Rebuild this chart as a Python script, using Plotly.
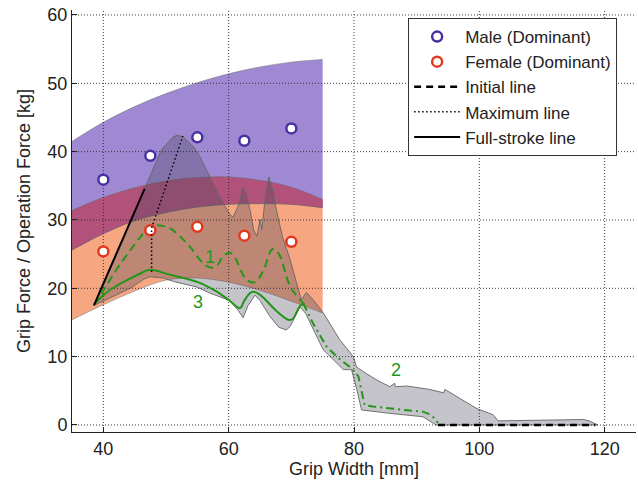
import plotly.graph_objects as go

# ---------------- data ----------------
band_x = [35, 40, 45, 50, 55, 60, 65, 70, 75]
male_upper = [41.5, 44.3, 46.6, 48.5, 50.1, 51.4, 52.4, 53.1, 53.5]
male_lower = [25.6, 28.0, 29.9, 31.1, 31.9, 32.3, 32.4, 32.3, 31.8]
female_upper = [31.4, 33.3, 34.7, 35.7, 36.2, 36.3, 35.8, 34.8, 33.0]
female_lower = [15.4, 17.6, 19.6, 21.2, 21.5, 20.9, 19.7, 18.1, 16.4]

op_upper_x = [38.5, 46.7, 47.2, 49.3, 51.2, 51.9, 52.8, 54.3, 55.4, 57.0, 58.5, 60.2, 60.7,
              61.5, 62.3, 62.8, 63.4, 64.0, 64.5, 65.0, 65.3, 65.8, 66.4, 67.0, 67.6, 68.6,
              69.8, 70.7, 71.6, 72.4, 73.5, 75.1, 77.7, 79.9, 80.4, 82.0, 83.6, 85.7, 86.5,
              86.6, 88.4, 92.1, 94.3, 94.5, 96.4, 98.0, 99.6, 102.2, 103.0, 110.0, 116.6,
              117.5, 118.9]
op_upper_y = [17.5, 34.8, 35.8, 40.3, 42.2, 42.4, 42.1, 40.8, 39.3, 36.4, 33.5, 30.8, 30.4,
              32.0, 34.7, 33.8, 31.5, 28.5, 27.6, 30.1, 28.6, 33.0, 36.3, 34.5, 31.5, 27.5,
              24.2, 21.2, 18.3, 19.4, 18.3, 16.4, 12.5, 10.0, 8.5, 7.5, 6.6, 5.6, 6.1,
              5.6, 5.7, 5.2, 4.7, 5.2, 4.2, 3.3, 2.4, 1.5, 0.6, 0.7, 0.8,
              0.6, 0.0]
op_lower_x = [118.9, 93.1, 91.0, 85.7, 81.2, 80.5, 79.6, 78.3, 77.0, 75.1, 73.5, 72.3, 71.4,
              70.6, 69.8, 69.2, 68.0, 66.5, 65.0, 64.2, 63.1, 62.3, 61.5, 60.2, 57.0, 54.9,
              51.2, 49.6, 47.4, 46.4, 44.3, 41.1, 38.5]
op_lower_y = [0.0, 0.0, 1.2, 1.7, 2.2, 5.0, 8.1, 8.1, 9.3, 11.0, 14.0, 16.3, 17.3,
              15.8, 14.4, 13.9, 14.3, 16.0, 18.2, 19.0, 17.5, 15.7, 16.8, 18.2, 19.3, 20.2,
              21.0, 21.5, 21.7, 21.3, 20.0, 18.6, 17.5]

line1_x = [38.5, 40.0, 42.0, 44.0, 46.0, 47.4, 49.0, 50.6, 52.0, 53.8, 55.9, 57.3, 58.3,
           59.1, 60.2, 61.0, 62.8, 64.2, 65.5, 66.9, 67.5, 68.2, 69.8, 71.4, 72.0]
line1_y = [17.6, 19.7, 22.6, 25.2, 27.6, 29.1, 29.2, 28.8, 27.8, 26.1, 23.7, 23.0, 23.5,
           24.7, 25.2, 24.5, 21.3, 20.9, 22.5, 25.7, 25.6, 24.7, 20.3, 18.3, 17.7]

line3_x = [38.5, 40.0, 42.0, 44.0, 46.0, 47.4, 50.6, 55.4, 58.1, 60.0, 61.8, 62.5, 63.4,
           63.9, 64.8, 65.8, 67.5, 69.5, 70.2, 71.0, 71.6, 72.0]
line3_y = [17.6, 19.0, 20.3, 21.3, 22.2, 22.7, 22.0, 20.8, 19.5, 18.3, 17.1, 18.2, 19.3,
           19.5, 19.2, 18.4, 16.8, 15.4, 15.5, 16.8, 17.6, 17.6]

line2_x = [71.9, 73.5, 75.6, 77.5, 79.6, 80.7, 81.2, 81.7, 83.0, 85.7, 88.0, 91.0, 92.0,
           92.6, 93.4]
line2_y = [17.8, 14.8, 11.5, 9.8, 8.3, 7.1, 5.0, 2.9, 2.7, 2.4, 2.2, 1.95, 1.6, 1.2, 0.3]

initial_x = [93.4, 118.5]
initial_y = [0.0, 0.0]
maximum_x = [47.7, 47.7, 52.7]
maximum_y = [22.4, 28.8, 42.3]
fullstroke_x = [38.5, 46.6]
fullstroke_y = [17.5, 34.6]

subject_x = [40, 47.5, 55, 62.5, 70]
male_force = [35.9, 39.4, 42.1, 41.6, 43.4]
female_force = [25.4, 28.5, 29.0, 27.7, 26.8]

label_text = ["1", "2", "3"]
label_x = [57.0, 86.7, 55.1]
label_y = [24.6, 8.0, 18.0]

x_ticks = [40, 60, 80, 100, 120]
y_ticks = [0, 10, 20, 30, 40, 50, 60]
x_range = [35, 125]
y_range = [-1.03, 60.73]

# ---------------- styles ----------------
C_PURPLE = "rgb(158,137,210)"
C_SALMON = "rgb(247,166,130)"
C_MAGENTA = "rgb(178,82,122)"
C_EDGE = "rgba(100,100,100,0.6)"
C_GREEN = "rgb(35,150,25)"
FONT = "Liberation Sans, Arial, sans-serif"

fig = go.Figure()


def band(lower, upper, color):
    fig.add_trace(go.Scatter(x=band_x, y=lower, mode="lines",
                             line=dict(color=C_EDGE, width=0.8, shape="spline"),
                             showlegend=False, hoverinfo="skip"))
    fig.add_trace(go.Scatter(x=band_x, y=upper, mode="lines", fill="tonexty",
                             fillcolor=color,
                             line=dict(color=C_EDGE, width=0.8, shape="spline"),
                             showlegend=False, hoverinfo="skip"))


band(female_lower, female_upper, C_SALMON)
band(male_lower, male_upper, C_PURPLE)
band(male_lower, female_upper, C_MAGENTA)

# operation-force envelope
fig.add_trace(go.Scatter(x=op_upper_x + op_lower_x, y=op_upper_y + op_lower_y,
                         mode="lines", fill="toself", fillcolor="rgba(70,70,90,0.32)",
                         line=dict(color="rgba(100,100,100,0.9)", width=1),
                         showlegend=False, hoverinfo="skip"))

# grid lines (drawn over the bands, as in the reference)
gx, gy = [], []
for t in x_ticks:
    gx += [t, t, None]
    gy += [y_range[0], y_range[1], None]
for t in y_ticks:
    gx += [x_range[0], x_range[1], None]
    gy += [t, t, None]
fig.add_trace(go.Scatter(x=gx, y=gy, mode="lines",
                         line=dict(color="rgba(40,40,40,0.9)", width=1, dash="1px,2px"),
                         showlegend=False, hoverinfo="skip"))

# green lines
fig.add_trace(go.Scatter(x=line1_x, y=line1_y, mode="lines",
                         line=dict(color=C_GREEN, width=2, dash="8px,5px", shape="spline"),
                         showlegend=False, hoverinfo="skip"))
fig.add_trace(go.Scatter(x=line3_x, y=line3_y, mode="lines",
                         line=dict(color=C_GREEN, width=2, shape="spline"),
                         showlegend=False, hoverinfo="skip"))
fig.add_trace(go.Scatter(x=line2_x, y=line2_y, mode="lines",
                         line=dict(color=C_GREEN, width=2, dash="8px,4px,2px,4px"),
                         showlegend=False, hoverinfo="skip"))

# markers
fig.add_trace(go.Scatter(x=subject_x, y=male_force, mode="markers", name="Male (Dominant)",
                         marker=dict(symbol="circle", size=10, color="white",
                                     line=dict(color="rgb(72,48,160)", width=2.5))))
fig.add_trace(go.Scatter(x=subject_x, y=female_force, mode="markers", name="Female (Dominant)",
                         marker=dict(symbol="circle", size=10, color="white",
                                     line=dict(color="rgb(228,55,30)", width=2.5))))

# black reference lines
fig.add_trace(go.Scatter(x=initial_x, y=initial_y, mode="lines", name="Initial line",
                         line=dict(color="black", width=2.5, dash="7px,5px")))
fig.add_trace(go.Scatter(x=maximum_x, y=maximum_y, mode="lines", name="Maximum line",
                         line=dict(color="black", width=1.5, dash="1.5px,2.5px")))
fig.add_trace(go.Scatter(x=fullstroke_x, y=fullstroke_y, mode="lines", name="Full-stroke line",
                         line=dict(color="black", width=2)))

for t, xx, yy in zip(label_text, label_x, label_y):
    fig.add_annotation(x=xx, y=yy, text=t, showarrow=False,
                       font=dict(family=FONT, size=18, color=C_GREEN))

axis_common = dict(showgrid=False, zeroline=False, showline=True, linecolor="#222",
                   linewidth=1, ticks="inside", ticklen=5, tickcolor="#222",
                   tickfont=dict(family=FONT, size=18, color="#222"))

fig.update_layout(
    width=638, height=488,
    margin=dict(l=72, r=2, t=10, b=56),
    paper_bgcolor="white", plot_bgcolor="white",
    font=dict(family=FONT, color="#222"),
    xaxis=dict(range=x_range, tickvals=x_ticks,
               title=dict(text="Grip Width [mm]", font=dict(family=FONT, size=18), standoff=4),
               **axis_common),
    yaxis=dict(range=y_range, tickvals=y_ticks,
               title=dict(text="Grip Force / Operation Force [kg]", font=dict(family=FONT, size=18),
                          standoff=12),
               **axis_common),
    legend=dict(x=0.596, y=0.981, xanchor="left", yanchor="top",
                bgcolor="white", bordercolor="#333", borderwidth=1,
                font=dict(family=FONT, size=17, color="#222"),
                traceorder="normal", tracegroupgap=0, itemwidth=46),
    showlegend=True,
)

fig.write_html("out.html")
